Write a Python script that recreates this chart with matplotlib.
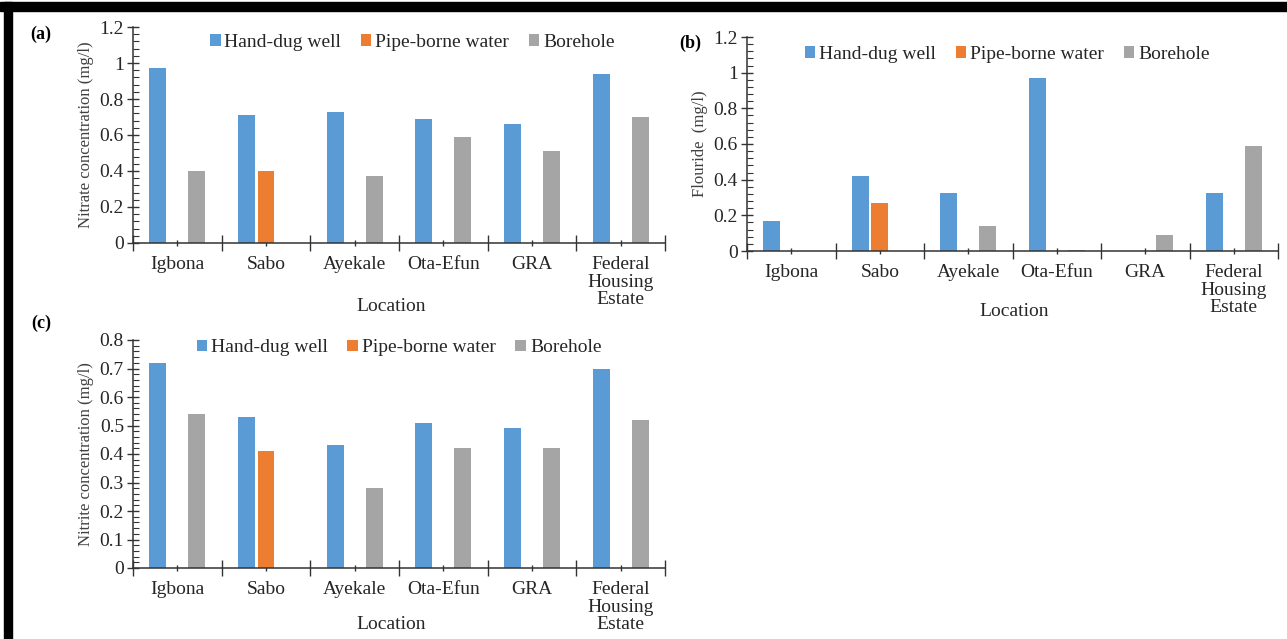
import matplotlib
matplotlib.use('Agg')
import matplotlib.pyplot as plt
from matplotlib.patches import Rectangle
from matplotlib.ticker import MultipleLocator, FuncFormatter
import numpy as np

locations = ['Igbona', 'Sabo', 'Ayekale', 'Ota-Efun', 'GRA', 'Federal\nHousing\nEstate']
series_names = ['Hand-dug well', 'Pipe-borne water', 'Borehole']

nitrate_well = [0.97, 0.71, 0.73, 0.69, 0.66, 0.94]
nitrate_pipe = [0, 0.40, 0, 0, 0, 0]
nitrate_bore = [0.40, 0, 0.37, 0.59, 0.51, 0.70]

fluoride_well = [0.17, 0.42, 0.325, 0.97, 0, 0.325]
fluoride_pipe = [0, 0.27, 0, 0, 0, 0]
fluoride_bore = [0, 0, 0.14, 0.005, 0.09, 0.59]

nitrite_well = [0.72, 0.53, 0.43, 0.51, 0.49, 0.70]
nitrite_pipe = [0, 0.41, 0, 0, 0, 0]
nitrite_bore = [0.54, 0, 0.28, 0.42, 0.42, 0.52]

colors = ['#5B9BD5', '#ED7D31', '#A5A5A5']
txt = '#262626'
plt.rcParams['font.family'] = ['Liberation Serif', 'DejaVu Serif']

W, H = 1287, 639
fig = plt.figure(figsize=(W / 100, H / 100), dpi=100)
fig.patch.set_facecolor('white')

# frame strips along top and left edge
fig.patches.append(Rectangle((0, 1 - 11 / H), 1, 9 / H, transform=fig.transFigure,
                             color='black', zorder=10))
fig.patches.append(Rectangle((4 / W, 0), 8 / W, 1 - 2 / H, transform=fig.transFigure,
                             color='black', zorder=10))


def px_axes(l, r, top, bot):
    return fig.add_axes([l / W, 1 - bot / H, (r - l) / W, (bot - top) / H])


def draw_panel(ax, data, ymax, ystep, ylabel, tag, tag_xy, leg_xy, xlab_y, xlab_x):
    x = np.arange(len(locations))
    offs = [-0.22, 0, 0.22]
    for vals, off, c, name in zip(data, offs, colors, series_names):
        ax.bar(x + off, vals, width=0.19, color=c, label=name, zorder=2)
    ax.set_xlim(-0.5, len(locations) - 0.5)
    ax.set_ylim(0, ymax)
    for s in ['top', 'right']:
        ax.spines[s].set_visible(False)
    for s in ['left', 'bottom']:
        ax.spines[s].set_color('#333333')
        ax.spines[s].set_linewidth(1.1)

    ax.yaxis.set_major_locator(MultipleLocator(ystep))
    ax.yaxis.set_minor_locator(MultipleLocator(ystep / 5))
    ax.yaxis.set_major_formatter(FuncFormatter(lambda v, p: f'{v:g}'))
    ax.tick_params(axis='y', which='major', direction='inout', length=9, width=1,
                   labelsize=14, pad=2, colors='#333333', labelcolor=txt)
    ax.tick_params(axis='y', which='minor', direction='in', length=4, width=0.8,
                   colors='#333333')

    ax.set_xticks(x)
    ax.set_xticklabels(locations, linespacing=1.05)
    ax.set_xticks(np.arange(len(locations) + 1) - 0.5, minor=True)
    ax.tick_params(axis='x', which='major', direction='inout', length=5, width=1,
                   labelsize=14, pad=7, colors='#333333', labelcolor=txt)
    ax.tick_params(axis='x', which='minor', direction='inout', length=12, width=1,
                   colors='#333333')

    ax.set_ylabel(ylabel, fontsize=12, color='#404040', labelpad=4)
    ax.set_xlabel('Location', fontsize=14, color=txt)
    ax.xaxis.set_label_coords(xlab_x, xlab_y)

    ax.legend(loc='center', bbox_to_anchor=leg_xy, ncol=3, frameon=False,
              fontsize=14, handlelength=0.55, handleheight=0.55, handletextpad=0.2,
              columnspacing=1.0, labelcolor=txt)
    fig.text(tag_xy[0] / W, 1 - tag_xy[1] / H, tag, fontsize=13, fontweight='bold',
             ha='center', va='center', color='black')


ax_a = px_axes(133, 665, 27, 243)
draw_panel(ax_a, [nitrate_well, nitrate_pipe, nitrate_bore], 1.2, 0.2,
           'Nitrate concentration (mg/l)', '(a)', (41, 34), (0.525, 0.93), -0.255, 0.485)

ax_b = px_axes(747, 1278, 37, 251)
draw_panel(ax_b, [fluoride_well, fluoride_pipe, fluoride_bore], 1.2, 0.2,
           'Flouride  (mg/l)', '(b)', (690, 43), (0.49, 0.92), -0.243, 0.503)

ax_c = px_axes(133, 665, 340, 568)
draw_panel(ax_c, [nitrite_well, nitrite_pipe, nitrite_bore], 0.8, 0.1,
           'Nitrite concentration (mg/l)', '(c)', (41, 323), (0.50, 0.965), -0.21, 0.485)

fig.savefig('out.png', dpi=100)
